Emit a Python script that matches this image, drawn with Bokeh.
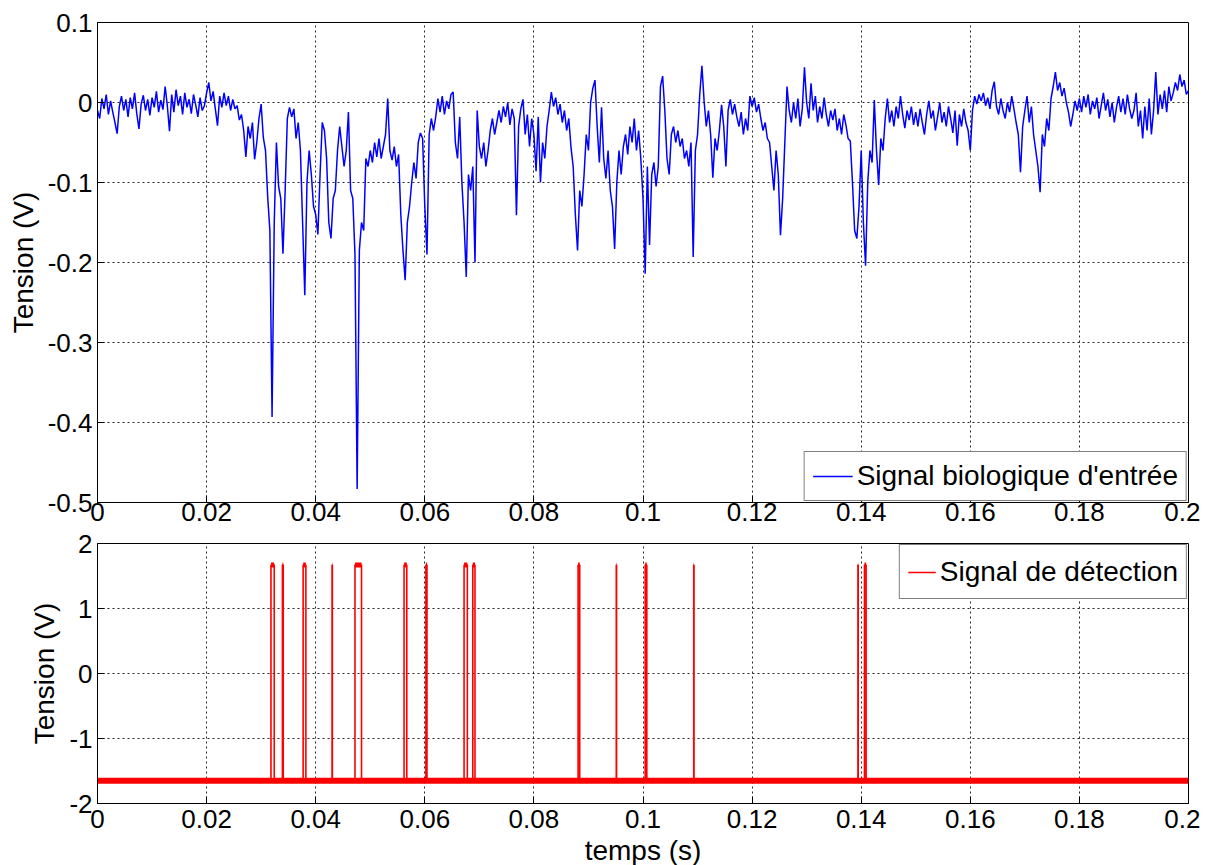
import numpy as np
from bokeh.plotting import figure
from bokeh.layouts import column
from bokeh.models import FixedTicker, Legend, LegendItem
from bokeh.embed import file_html
from bokeh.resources import INLINE

# ---------------- data ----------------
sample_period = 0.0004  # s, resampled reading of the trace

signal_values = [
    # 0.000 - 0.0096
    -0.010, -0.020, 0.005, -0.008, 0.010, -0.015, 0.002, -0.012, -0.025, -0.039,
    -0.005, 0.008, -0.010, 0.004, -0.018, 0.006, -0.008, 0.012, -0.014, -0.033,
    -0.002, 0.009, -0.010, 0.004, -0.016,
    # 0.0100 - 0.0196
    0.006, -0.006, 0.014, -0.012, 0.003, -0.009, 0.020, -0.004, -0.036, 0.010,
    -0.012, 0.016, -0.004, 0.008, -0.015, 0.012, -0.006, 0.004, -0.014, 0.010,
    -0.003, -0.018, 0.006, -0.010, -0.004,
    # 0.0200 - 0.0296
    0.012, 0.025, 0.002, 0.014, -0.008, -0.029, 0.008, -0.006, 0.012, -0.004,
    0.008, -0.010, 0.004, -0.008, -0.004, -0.022, -0.015, -0.035, -0.068, -0.030,
    -0.045, -0.025, -0.071, -0.050, -0.020,
    # 0.0300 - 0.0396
    -0.002, -0.044, -0.060, -0.118, -0.160, -0.393, -0.150, -0.050, -0.105, -0.120,
    -0.189, -0.110, -0.020, -0.006, -0.018, -0.008, -0.045, -0.025, -0.060, -0.150,
    -0.241, -0.100, -0.060, -0.090, -0.130,
    # 0.0400 - 0.0496
    -0.140, -0.165, -0.090, -0.025, -0.035, -0.070, -0.150, -0.170, -0.120, -0.110,
    -0.060, -0.030, -0.055, -0.080, -0.060, -0.012, -0.110, -0.120, -0.190, -0.483,
    -0.185, -0.150, -0.160, -0.070, -0.080,
    # 0.0500 - 0.0596
    -0.060, -0.075, -0.050, -0.068, -0.045, -0.070, -0.055, -0.040, 0.005, -0.060,
    -0.072, -0.055, -0.080, -0.065, -0.140, -0.185, -0.222, -0.150, -0.130, -0.100,
    -0.075, -0.095, -0.050, -0.038, -0.045,
    # 0.0600 - 0.0696
    -0.130, -0.190, -0.040, -0.020, -0.035, -0.018, 0.005, -0.012, 0.008, -0.015,
    0.002, -0.008, 0.010, 0.013, -0.050, -0.070, -0.018, -0.100, -0.150, -0.218,
    -0.090, -0.110, -0.080, -0.200, -0.010,
    # 0.0700 - 0.0796
    -0.055, -0.070, -0.050, -0.080, -0.060, -0.035, -0.020, -0.040, -0.025, -0.010,
    -0.025, -0.005, -0.018, 0.000, -0.028, -0.008, -0.020, -0.141, -0.030, -0.008,
    0.004, -0.040, -0.015, -0.055, -0.020,
    # 0.0800 - 0.0896
    -0.040, -0.086, -0.018, -0.100, -0.050, -0.070, -0.030, -0.010, 0.013, -0.005,
    0.006, -0.015, -0.002, -0.025, -0.010, -0.035, -0.020, -0.056, -0.080, -0.140,
    -0.185, -0.110, -0.130, -0.090, -0.040,
    # 0.0900 - 0.0996
    -0.060, 0.000, 0.018, 0.028, -0.030, -0.075, -0.006, -0.070, -0.095, -0.060,
    -0.110, -0.130, -0.183, -0.100, -0.060, -0.090, -0.055, -0.040, -0.065, -0.030,
    -0.050, -0.020, -0.060, -0.035, -0.070,
    # 0.1000 - 0.1096
    -0.120, -0.214, -0.080, -0.178, -0.090, -0.075, -0.105, -0.080, 0.020, 0.033,
    -0.010, -0.070, -0.090, -0.040, -0.030, -0.050, -0.035, -0.055, -0.045, -0.070,
    -0.060, -0.080, -0.050, -0.193, -0.060,
    # 0.1100 - 0.1196
    -0.040, 0.010, 0.046, 0.002, -0.030, -0.010, -0.040, -0.094, -0.045, -0.060,
    -0.035, -0.003, -0.030, -0.080, -0.010, 0.004, -0.015, -0.002, -0.018, -0.030,
    -0.012, -0.040, -0.020, -0.035, 0.008,
    # 0.1200 - 0.1296
    -0.005, 0.006, -0.012, -0.002, -0.020, -0.035, -0.025, -0.045, -0.050, -0.080,
    -0.110, -0.060, -0.090, -0.166, -0.120, -0.050, 0.020, -0.010, -0.025, 0.000,
    -0.020, 0.005, -0.030, -0.008, 0.044,
    # 0.1300 - 0.1396
    0.000, -0.020, 0.024, -0.010, 0.008, -0.025, -0.005, -0.020, 0.006, -0.015,
    -0.030, -0.010, -0.022, -0.008, -0.035, -0.020, -0.040, -0.015, -0.028, -0.045,
    -0.048, -0.100, -0.160, -0.170, -0.130,
    # 0.1400 - 0.1496
    -0.060, -0.150, -0.204, -0.100, -0.060, -0.075, 0.003, -0.060, -0.103, -0.045,
    -0.060, -0.020, 0.005, -0.025, -0.010, -0.030, -0.005, -0.020, 0.008, -0.015,
    -0.032, -0.010, -0.022, -0.005, -0.028,
    # 0.1500 - 0.1596
    -0.012, -0.030, -0.008, -0.025, -0.040, -0.015, 0.002, -0.020, -0.010, -0.035,
    -0.018, 0.000, -0.025, -0.012, -0.030, -0.005, -0.020, -0.038, -0.010, -0.054,
    -0.015, -0.030, -0.008, -0.025, -0.035,
    # 0.1600 - 0.1696
    -0.060, -0.010, 0.008, -0.002, 0.010, 0.002, 0.012, -0.004, 0.006, -0.008,
    0.015, 0.026, -0.005, -0.015, 0.005, -0.010, -0.020, 0.000, -0.012, 0.008,
    -0.008, -0.025, -0.040, -0.087, -0.030,
    # 0.1700 - 0.1796
    -0.010, 0.008, -0.025, -0.005, -0.040, -0.060, -0.080, -0.112, -0.040, -0.055,
    -0.020, -0.035, 0.005, 0.020, 0.038, 0.015, 0.025, 0.008, 0.018, 0.000,
    -0.012, -0.030, -0.015, 0.002, -0.010,
    # 0.1800 - 0.1896
    0.005, -0.012, 0.008, -0.006, 0.010, -0.015, 0.002, -0.008, 0.006, -0.020,
    -0.004, 0.012, -0.010, 0.004, -0.018, 0.000, -0.025, -0.006, 0.008, -0.012,
    0.005, -0.015, 0.010, -0.008, -0.020,
    # 0.1900 - 0.2000
    -0.010, 0.012, -0.030, -0.010, -0.045, -0.005, -0.035, 0.005, -0.040, -0.010,
    0.038, -0.015, 0.010, -0.008, 0.015, -0.012, 0.020, 0.002, 0.012, 0.025,
    0.015, 0.035, 0.020, 0.028, 0.010, 0.015,
]
signal_t = [i * sample_period for i in range(len(signal_values))]

pulse_starts = [0.0318, 0.0339, 0.0377, 0.0430, 0.0472, 0.0562, 0.0602, 0.0672,
                0.0688, 0.0881, 0.0951, 0.1004, 0.1093, 0.1394, 0.1406]
pulse_ends = [0.0324, 0.03405, 0.0382, 0.04305, 0.0484, 0.0567, 0.0604, 0.0678,
              0.0692, 0.0884, 0.09515, 0.1007, 0.10935, 0.13945, 0.1409]
det_low = -1.65
det_high = 1.67
t_start, t_end = 0.0, 0.2

det_t = [t_start]
det_v = [det_low]
for s, e in zip(pulse_starts, pulse_ends):
    det_t += [s, s, e, e]
    det_v += [det_low, det_high, det_high, det_low]
det_t.append(t_end)
det_v.append(det_low)

x_ticks = [0, 0.02, 0.04, 0.06, 0.08, 0.1, 0.12, 0.14, 0.16, 0.18, 0.2]
x_tick_labels = ["0", "0.02", "0.04", "0.06", "0.08", "0.1", "0.12", "0.14", "0.16", "0.18", "0.2"]
y1_range = (-0.5, 0.1)
y1_ticks = [-0.5, -0.4, -0.3, -0.2, -0.1, 0, 0.1]
y1_tick_labels = ["-0.5", "-0.4", "-0.3", "-0.2", "-0.1", "0", "0.1"]
y2_range = (-2, 2)
y2_ticks = [-2, -1, 0, 1, 2]
y2_tick_labels = ["-2", "-1", "0", "1", "2"]

label_signal = "Signal biologique d'entrée"
label_detect = "Signal de détection"
y_title = "Tension (V)"
x_title = "temps (s)"

# ---------------- styling ----------------
FONT = "Liberation Sans"
TICK_FS = "26px"
LABEL_FS = "28px"
FRAME_W = 1091
H1, H2 = 480, 260
BORDER_BELOW_TOP = 30   # strip under the upper frame (holds its time labels)
BORDER_ABOVE_BOTTOM = 11


def style_axis(ax):
    ax.major_label_text_font = FONT
    ax.major_label_text_font_size = TICK_FS
    ax.major_label_text_color = "black"
    ax.axis_line_color = "black"
    ax.major_tick_line_color = "black"
    ax.major_tick_in = 7
    ax.major_tick_out = 0
    ax.minor_tick_line_color = None
    ax.axis_label_text_font = FONT
    ax.axis_label_text_font_size = LABEL_FS
    ax.axis_label_text_font_style = "normal"
    ax.axis_label_text_color = "black"


def style(p, yt, ytl):
    p.xaxis.ticker = FixedTicker(ticks=x_ticks)
    p.yaxis.ticker = FixedTicker(ticks=yt)
    p.xgrid.ticker = FixedTicker(ticks=x_ticks)
    p.ygrid.ticker = FixedTicker(ticks=yt)
    p.xaxis.major_label_overrides = {float(t): s for t, s in zip(x_ticks, x_tick_labels)}
    p.yaxis.major_label_overrides = {float(t): s for t, s in zip(yt, ytl)}
    for ax in p.axis:
        style_axis(ax)
    p.xaxis.major_label_standoff = 6
    p.yaxis.major_label_standoff = 5
    p.yaxis.axis_label_standoff = 6
    p.grid.grid_line_color = "black"
    p.grid.grid_line_dash = "2 3"
    p.grid.grid_line_alpha = 0.85
    p.outline_line_color = "black"
    p.outline_line_alpha = 1
    p.background_fill_color = "white"
    p.border_fill_color = "white"


def make_legend(item, loc, glyph_w, pad, lh):
    lg = Legend(items=[item], location=loc)
    lg.label_text_font = FONT
    lg.label_text_font_size = LABEL_FS
    lg.label_text_color = "black"
    lg.border_line_color = "black"
    lg.border_line_width = 1
    lg.background_fill_alpha = 1
    lg.margin = 1
    lg.padding = pad
    lg.spacing = 0
    lg.glyph_width = glyph_w
    lg.label_height = lh
    lg.label_standoff = 4
    return lg


# upper panel
p1 = figure(frame_width=FRAME_W, frame_height=H1, x_range=(t_start, t_end), y_range=y1_range,
            output_backend="svg", toolbar_location=None,
            min_border_left=97, min_border_right=12, min_border_top=22,
            min_border_bottom=BORDER_BELOW_TOP)
style(p1, y1_ticks, y1_tick_labels)
p1.xaxis.major_label_standoff = 0
p1.yaxis.axis_label = y_title
r1 = p1.line(signal_t, signal_values, line_color="#0000FF", line_width=1.5)
p1.add_layout(make_legend(LegendItem(label=label_signal, renderers=[r1]), "bottom_right", 40, 8, 30))

# lower panel
p2 = figure(frame_width=FRAME_W, frame_height=H2, x_range=(t_start, t_end), y_range=y2_range,
            output_backend="svg", toolbar_location=None,
            min_border_left=97, min_border_right=12, min_border_top=BORDER_ABOVE_BOTTOM,
            min_border_bottom=40)
style(p2, y2_ticks, y2_tick_labels)
p2.yaxis.axis_label = y_title
p2.xaxis.axis_label = x_title
p2.xaxis.axis_label_standoff = 4

p2.line([t_start, t_end], [det_low, det_low], line_color="#FF0000", line_width=6)
r2 = p2.line(det_t, det_v, line_color="#FF0000", line_width=1.6)
p2.segment(x0=pulse_starts, y0=[det_high] * len(pulse_starts), x1=pulse_ends,
           y1=[det_high] * len(pulse_starts), line_color="#FF0000", line_width=5)
p2.add_layout(make_legend(LegendItem(label=label_detect, renderers=[r2]), "top_right", 28, 8, 37))

layout = column(p1, p2, spacing=0)

html = file_html(layout, INLINE)
html = html.replace("</head>", "<style>html,body{overflow:hidden;}</style></head>", 1)
open("out.html", "w").write(html)
